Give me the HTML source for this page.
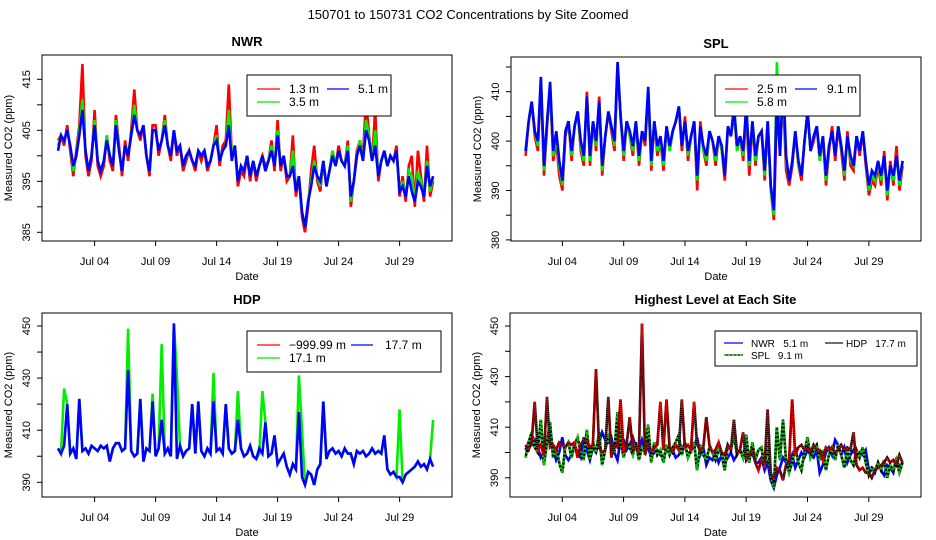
<!DOCTYPE html>
<html><head><meta charset="utf-8"><style>
body{margin:0;background:#fff}
svg{display:block;font-family:"Liberation Sans",sans-serif}
</style></head><body>
<svg id="c" width="936" height="540" viewBox="0 0 936 540">
<text x="468" y="19" text-anchor="middle" font-size="13">150701  to  150731 CO2 Concentrations by Site Zoomed</text>
</svg>
<script>
// date ticks (days since Jul 01)
const dateTickDays=[3,8,13,18,23,28];
const dateTickLabels=["Jul 04","Jul 09","Jul 14","Jul 19","Jul 24","Jul 29"];
// samples every 6 hours starting Jul 01 00:00
const nwr13=[403,404,402,406,401,396,401,406,418,400,396,399,409,398,396,398,404,399,397,408,402,396,403,399,405,413,405,403,406,400,396,406,406,400,403,408,402,399,405,400,402,397,399,401,399,397,401,399,401,397,399,402,406,398,402,403,414,400,402,394,397,396,400,395,399,395,398,400,398,399,403,397,407,397,400,395,396,404,392,396,388,385,390,397,402,395,393,399,394,397,401,398,402,399,398,403,390,395,401,403,400,411,404,399,409,395,399,401,398,400,399,402,392,396,391,398,400,390,401,396,391,402,392,395];
const nwr35=[402,404,403,405,402,397,400,405,411,401,397,400,407,399,397,399,404,400,398,407,401,397,402,400,404,410,405,404,406,400,397,405,405,401,403,407,402,400,405,401,402,398,400,401,399,398,401,400,401,398,399,402,404,399,401,402,409,400,402,395,398,397,400,396,399,396,398,400,397,399,402,398,405,398,400,396,396,401,393,396,389,386,391,395,399,396,394,399,394,397,401,398,401,399,398,402,391,395,400,403,399,407,404,399,405,396,399,401,398,400,399,401,393,395,392,397,396,391,397,395,392,399,393,396];
const nwr51=[401,404,403,405,402,398,400,404,409,401,397,400,406,399,397,399,403,400,398,406,401,397,402,400,404,408,405,404,406,400,397,405,405,401,403,406,402,400,405,401,402,398,400,401,399,398,401,400,401,398,399,402,403,399,401,402,406,399,402,395,398,397,400,396,399,396,398,400,397,399,401,398,404,398,400,396,396,398,393,396,389,386,391,394,398,396,395,399,394,397,400,398,401,399,398,401,392,395,400,402,399,405,403,399,402,396,399,401,398,400,399,401,393,394,392,396,393,391,395,394,392,398,394,396];
const spl25=[397,404,408,401,398,412,393,403,411,396,400,393,390,401,404,396,403,406,398,395,410,395,404,398,409,393,401,406,402,398,415,405,396,404,401,397,404,395,402,399,410,394,404,397,400,394,403,398,402,404,407,398,405,396,401,404,390,404,398,395,402,400,395,401,398,392,403,401,406,398,401,396,406,393,404,395,401,402,392,404,390,384,407,398,409,394,391,395,402,395,392,400,406,398,400,403,396,401,391,398,403,396,403,398,392,402,395,394,401,397,402,395,389,392,391,395,391,398,388,396,391,399,390,395];
const spl58=[398,404,408,402,399,413,394,404,411,397,401,395,391,402,404,397,403,406,399,396,409,396,404,399,408,394,401,406,403,399,416,405,397,404,401,398,404,396,402,400,410,395,404,398,400,395,403,398,402,404,407,399,404,397,401,404,392,403,398,396,402,400,396,401,398,393,403,401,407,398,401,397,407,395,404,396,401,402,393,404,390,385,416,397,411,396,392,396,402,395,393,400,406,398,401,403,396,401,392,399,402,397,403,399,393,401,396,395,401,398,402,396,390,393,392,396,392,397,389,395,392,397,391,396];
const spl91=[398,404,408,402,400,413,395,404,412,398,402,396,392,402,404,398,403,406,400,397,409,397,404,400,408,395,401,406,403,400,416,405,398,404,402,399,404,397,402,400,411,396,404,399,401,396,403,399,402,404,407,399,404,398,401,404,393,403,399,397,402,400,397,401,399,393,403,401,407,399,401,398,407,396,404,397,401,402,394,404,391,386,410,397,413,397,392,396,402,396,393,400,406,398,401,403,397,401,393,399,402,397,403,399,394,401,397,395,401,398,402,396,391,394,393,396,393,397,390,395,393,397,392,396];
const hdp171=[403,401,426,420,401,403,399,422,402,403,401,404,403,402,404,403,404,398,403,405,405,402,403,449,402,400,401,422,398,403,402,424,400,403,443,401,403,400,451,431,404,400,402,403,420,401,421,402,400,403,401,432,402,403,401,420,403,401,402,425,403,400,401,404,400,399,401,425,413,400,401,408,397,399,401,396,393,397,395,431,410,389,394,393,389,395,397,421,399,402,403,401,402,400,403,401,401,397,402,401,402,400,401,403,401,402,401,408,395,393,394,392,418,390,393,394,395,396,398,396,397,395,399,414];
const hdp177=[403,401,404,420,401,403,399,422,402,403,401,404,403,402,404,403,404,398,403,405,405,402,403,433,402,400,401,422,398,403,402,421,400,403,414,401,403,400,451,399,404,400,402,403,420,401,421,402,400,403,401,421,402,403,401,420,403,401,402,414,403,400,401,404,400,399,403,401,413,400,401,408,397,399,401,396,393,397,395,417,392,389,394,393,389,395,397,421,399,402,403,401,402,400,403,401,401,397,402,401,402,400,401,403,401,402,401,408,395,393,394,392,392,390,393,394,395,396,398,396,397,395,399,396];

const NS='http://www.w3.org/2000/svg';
const svg=document.getElementById('c');
function mk(tag,attrs,parent){const e=document.createElementNS(NS,tag);for(const k in attrs)e.setAttribute(k,attrs[k]);(parent||svg).appendChild(e);return e;}

function panel(cfg){
  const g=mk('g',{});
  
  
  const [L,T,R,B]=cfg.box;
  const xs=d=>cfg.x0+d*cfg.dx;
  const ys=v=>cfg.yRef+(cfg.vRef-v)*cfg.k;
  const clip=mk('clipPath',{id:'cl'+cfg.name},g);
  mk('rect',{x:L,y:T,width:R-L,height:B-T},clip);
  const sg=mk('g',{'clip-path':'url(#cl'+cfg.name+')'},g);
  
  
  cfg.series.forEach(s=>{
    const pts=s.data.map((v,i)=>xs(i/4).toFixed(1)+','+ys(v).toFixed(1)).join(' ');
    if(s.under){const u=mk('polyline',{points:pts,fill:'none',stroke:'#000','stroke-width':s.w||2.6},sg);
      }
    const p=mk('polyline',{points:pts,fill:'none',stroke:s.color,'stroke-width':s.w||2.6,'stroke-linejoin':'miter'},sg);
    if(s.dash)p.setAttribute('stroke-dasharray',s.dash);
    
    
  });
  const box=mk('rect',{x:L,y:T,width:R-L,height:B-T,fill:'none',stroke:'#000','stroke-width':1},g);
  
  
  const t=mk('text',{x:(L+R)/2,y:T-9,'text-anchor':'middle','font-size':13,'font-weight':'bold'},g);
  t.textContent=cfg.title;
  
  
  const ax=mk('g',{},g);
  
  
  mk('line',{x1:xs(dateTickDays[0]),x2:xs(dateTickDays[dateTickDays.length-1]),y1:B,y2:B,stroke:'#000'},ax);
  dateTickDays.forEach((d,i)=>{
    mk('line',{x1:xs(d),x2:xs(d),y1:B,y2:B+5,stroke:'#000'},ax);
    const l=mk('text',{x:xs(d),y:B+24,'text-anchor':'middle','font-size':11},ax);
    l.textContent=dateTickLabels[i];
    
    
  });
  const xt=mk('text',{x:(L+R)/2,y:B+39,'text-anchor':'middle','font-size':11},g);
  xt.textContent='Date';
  
  
  const ay=mk('g',{},g);
  
  
  const tv=cfg.yTicks;
  mk('line',{x1:L,x2:L,y1:ys(tv[0]),y2:ys(tv[tv.length-1]),stroke:'#000'},ay);
  tv.forEach(v=>{
    mk('line',{x1:L,x2:L-5,y1:ys(v),y2:ys(v),stroke:'#000'},ay);
    if(cfg.yLabels.includes(v)){
      const l=mk('text',{x:L-12,y:ys(v),'text-anchor':'middle','font-size':11,transform:'rotate(-90 '+(L-12)+' '+ys(v)+')'},ay);
      l.textContent=v;
      
      
    }
  });
  const cy=(T+B)/2;
  const yt=mk('text',{x:L-30,y:cy,'text-anchor':'middle','font-size':11,transform:'rotate(-90 '+(L-30)+' '+cy+')'},g);
  yt.textContent='Measured CO2 (ppm)';
  
  
  const lg=cfg.legend;
  const lgG=mk('g',{},g);
  
  
  mk('rect',{x:lg.x,y:lg.y,width:lg.w,height:lg.h,fill:'#fff',stroke:'#000'},lgG);
  lg.items.forEach(it=>{
    const e=mk('g',{},lgG);
    
    
    if(it.under)mk('line',{x1:it.lx,x2:it.lx+it.ll,y1:it.y,y2:it.y,stroke:'#000','stroke-width':1.2},e);
    const ln=mk('line',{x1:it.lx,x2:it.lx+it.ll,y1:it.y,y2:it.y,stroke:it.color,'stroke-width':1.2},e);
    if(it.dash)ln.setAttribute('stroke-dasharray',it.dash);
    const tx=mk('text',{x:it.tx,y:it.y+4,'font-size':lg.fs||12},e);
    tx.textContent=it.label;
    tx.style.whiteSpace='pre';
  });
}

panel({name:'nwr',title:'NWR',box:[42,55,452,241],x0:58,dx:12.2,yRef:79.3,vRef:415,k:5.1,
  yTicks:[385,390,395,400,405,410,415],yLabels:[385,395,405,415],
  series:[{id:'nwr-1-3m',data:nwr13,color:'#ff0000'},{id:'nwr-3-5m',data:nwr35,color:'#00ee00'},{id:'nwr-5-1m',data:nwr51,color:'#0000ff'}],
  legend:{x:247,y:75,w:144,h:41,items:[
    {lx:257,ll:23,y:89,tx:289,label:'1.3 m',color:'#ff0000'},
    {lx:327,ll:22,y:89,tx:358,label:'5.1 m',color:'#0000ff'},
    {lx:257,ll:23,y:102,tx:289,label:'3.5 m',color:'#00ee00'}]}});
panel({name:'spl',title:'SPL',box:[511,57,921,241],x0:525.6,dx:12.26,yRef:91.7,vRef:410,k:4.94,
  yTicks:[380,385,390,395,400,405,410,415],yLabels:[380,390,400,410],
  series:[{id:'spl-2-5m',data:spl25,color:'#ff0000'},{id:'spl-5-8m',data:spl58,color:'#00ee00'},{id:'spl-9-1m',data:spl91,color:'#0000ff'}],
  legend:{x:715,y:75,w:145,h:41,items:[
    {lx:725,ll:23,y:89,tx:757,label:'2.5 m',color:'#ff0000'},
    {lx:795,ll:22,y:89,tx:827,label:'9.1 m',color:'#0000ff'},
    {lx:725,ll:23,y:102,tx:757,label:'5.8 m',color:'#00ee00'}]}});
panel({name:'hdp',title:'HDP',box:[42,313,452,497],x0:58,dx:12.2,yRef:326,vRef:450,k:2.605,
  yTicks:[390,400,410,420,430,440,450],yLabels:[390,410,430,450],
  series:[{id:'hdp-17-1m',data:hdp171,color:'#00ee00'},{id:'hdp-17-7m',data:hdp177,color:'#0000ff'}],
  legend:{x:247,y:331,w:194,h:41,items:[
    {lx:257,ll:23,y:345,tx:289,label:'\u2212999.99 m',color:'#ff0000'},
    {lx:351,ll:22,y:345,tx:385,label:'17.7 m',color:'#0000ff'},
    {lx:257,ll:23,y:358,tx:289,label:'17.1 m',color:'#00ee00'}]}});
panel({name:'highest',title:'Highest Level at Each Site',box:[510,313,921,497],x0:525.5,dx:12.26,yRef:326,vRef:450,k:2.53,
  yTicks:[390,400,410,420,430,440,450],yLabels:[390,410,430,450],
  series:[{id:'nwr-5-1m-top',data:nwr51,color:'#0000ff'},{id:'spl-9-1m-top',data:spl91,color:'#00cc00',dash:'2,2',under:true},{id:'hdp-17-7m-top',data:hdp177,color:'#ff0000',dash:'1,1',under:true}],
  legend:{x:715,y:331,w:202,h:35,fs:10,items:[
    {lx:724,ll:19,y:343,tx:751,label:'NWR   5.1 m',color:'#0000ff'},
    {lx:825,ll:18,y:343,tx:846,label:'HDP   17.7 m',color:'#ff0000',dash:'1,1',under:true},
    {lx:724,ll:19,y:355,tx:751,label:'SPL   9.1 m',color:'#00cc00',dash:'2,2',under:true}]}});
</script>
</body></html>
